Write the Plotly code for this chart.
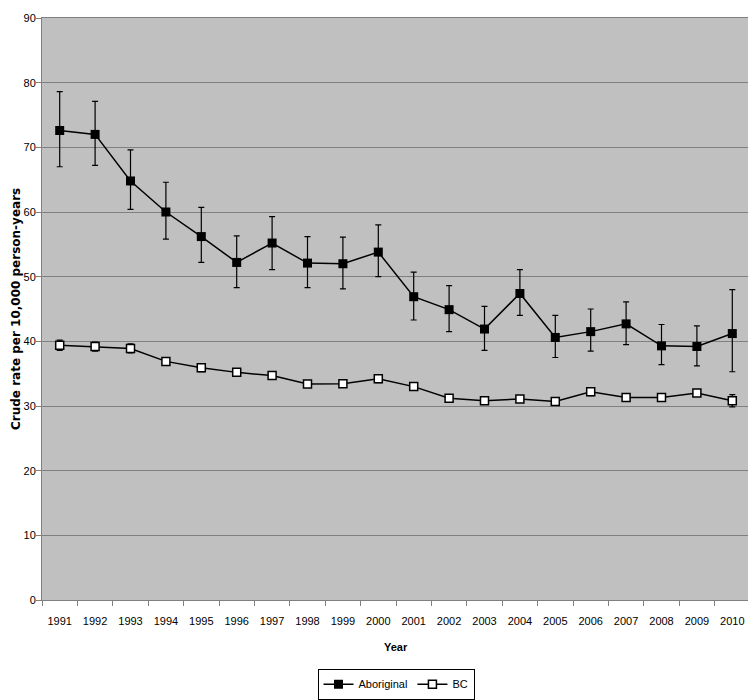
import plotly.graph_objects as go

years = [str(y) for y in range(1991, 2011)]
abo = [72.6, 72.0, 64.8, 60.0, 56.2, 52.2, 55.2, 52.1, 52.0, 53.8,
       46.9, 44.9, 41.9, 47.4, 40.6, 41.5, 42.7, 39.3, 39.2, 41.2]
abo_hi = [78.6, 77.1, 69.6, 64.6, 60.7, 56.3, 59.3, 56.2, 56.1, 58.0,
          50.7, 48.6, 45.4, 51.1, 44.0, 45.0, 46.1, 42.6, 42.4, 48.0]
abo_lo = [67.0, 67.2, 60.4, 55.8, 52.2, 48.3, 51.1, 48.3, 48.1, 50.0,
          43.3, 41.5, 38.6, 44.0, 37.5, 38.5, 39.5, 36.4, 36.2, 35.3]
bc = [39.4, 39.2, 38.9, 36.9, 35.9, 35.2, 34.7, 33.4, 33.45, 34.2,
      33.0, 31.2, 30.8, 31.1, 30.7, 32.2, 31.3, 31.3, 32.0, 30.8]
bc_err = [0.8, 0.7, 0.7, 0.6, 0.6, 0.6, 0.6, 0.5, 0.5, 0.6,
          0.5, 0.5, 0.5, 0.5, 0.5, 0.6, 0.5, 0.5, 0.5, 0.95]

xs = list(range(len(years)))
abo_plus = [h - v for h, v in zip(abo_hi, abo)]
abo_minus = [v - l for v, l in zip(abo, abo_lo)]

fig = go.Figure()
fig.add_trace(go.Scatter(
    x=xs, y=abo, name="Aboriginal", mode="lines+markers",
    line=dict(color="black", width=1.5),
    marker=dict(symbol="square", size=9, color="black"),
    error_y=dict(type="data", symmetric=False, array=abo_plus, arrayminus=abo_minus,
                 color="black", thickness=1.2, width=3),
))
fig.add_trace(go.Scatter(
    x=xs, y=bc, name="BC", mode="lines+markers",
    line=dict(color="black", width=1.5),
    marker=dict(symbol="square", size=8, color="white", line=dict(color="black", width=1.5)),
    error_y=dict(type="data", array=bc_err, color="black", thickness=1.2, width=3),
))

font = "Liberation Sans, Arial, sans-serif"
fig.update_layout(
    width=748, height=692,
    margin=dict(l=34, r=6, t=10, b=100, autoexpand=False),
    paper_bgcolor="white", plot_bgcolor="#C0C0C0",
    font=dict(family=font, size=11, color="black"),
    showlegend=True,
    legend=dict(orientation="h", x=0.5, xanchor="center", y=-0.118, yanchor="top",
                bordercolor="black", borderwidth=1, bgcolor="white",
                font=dict(family=font, size=11), itemwidth=30, tracegroupgap=0),
    xaxis=dict(
        automargin=False,
        range=[-0.5, len(years) - 0.5],
        tickmode="array", tickvals=xs, ticktext=years,
        ticks="", showgrid=False, zeroline=False,
        showline=True, linecolor="#808080", linewidth=1, mirror=True,
        minor=dict(tickmode="linear", tick0=-0.5, dtick=1, ticks="outside",
                   ticklen=5, tickcolor="#808080", showgrid=False),
        ticklabelstandoff=11,
        tickfont=dict(family=font, size=11),
    ),
    yaxis=dict(
        automargin=False,
        range=[0, 90], tickmode="linear", tick0=0, dtick=10,
        ticks="outside", ticklen=5, tickcolor="#808080",
        showgrid=True, gridcolor="#808080", gridwidth=1,
        zeroline=False,
        showline=True, linecolor="#808080", linewidth=1, mirror=True,
        ticklabelstandoff=-2,
        tickfont=dict(family=font, size=11),
    ),
    annotations=[
        dict(text="<b>Year</b>", xref="paper", yref="paper", x=0.5, y=-0.081,
             xanchor="center", yanchor="middle", showarrow=False,
             font=dict(family=font, size=11)),
        dict(text="<b>Crude rate per 10,000 person-years</b>", xref="paper", yref="paper",
             x=-0.0367, y=0.5, xanchor="center", yanchor="middle", textangle=-90,
             showarrow=False, font=dict(family="DejaVu Sans, sans-serif", size=12)),
    ],
)

fig.write_html("out.html")
